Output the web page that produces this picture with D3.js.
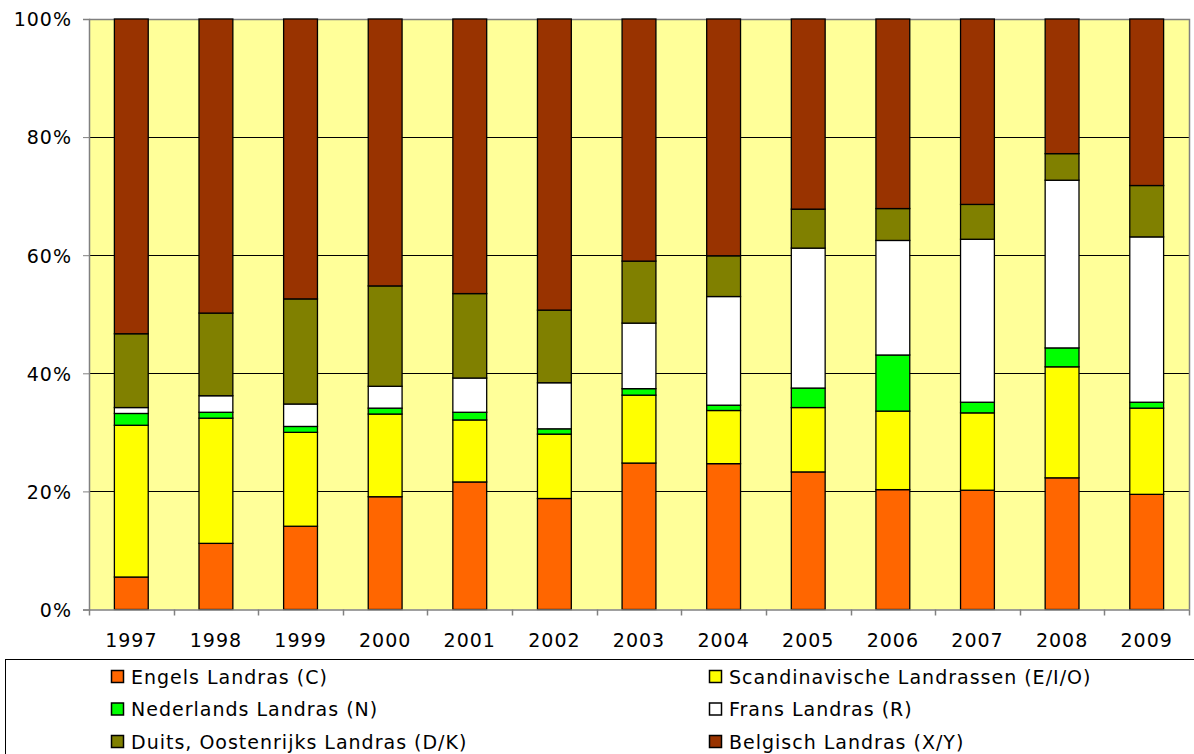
<!DOCTYPE html>
<html><head><meta charset="utf-8">
<script src="https://cdn.jsdelivr.net/npm/d3@7"></script>
<style>body{margin:0;background:#fff}svg{display:block}text{font-family:"DejaVu Sans",Verdana,sans-serif;fill:#000}</style>
</head><body><svg id="c" width="1194" height="754"></svg>
<script>
const years = ["1997","1998","1999","2000","2001","2002","2003","2004","2005","2006","2007","2008","2009"];
const seriesNames = ["Engels Landras (C)","Scandinavische Landrassen (E/I/O)","Nederlands Landras (N)","Frans Landras (R)","Duits, Oostenrijks Landras (D/K)","Belgisch Landras (X/Y)"];
const seriesColors = ["#FF6600","#FFFF00","#00FF00","#FFFFFF","#808000","#993300"];
const engels    = [5.5,11.2,14.1,19.1,21.6,18.8,24.8,24.7,23.3,20.3,20.2,22.3,19.5];
const scandi    = [25.7,21.2,15.9,14.0,10.5,10.9,11.5,9.0,10.9,13.3,13.1,18.8,14.6];
const nederland = [2.0,1.0,1.0,1.0,1.3,0.9,1.1,0.9,3.3,9.5,1.8,3.2,1.0];
const frans     = [1.0,2.8,3.8,3.7,5.8,7.8,11.1,18.4,23.7,19.4,27.6,28.4,28.0];
const duits     = [12.5,14.0,17.8,17.0,14.3,12.3,10.5,6.9,6.6,5.4,5.9,4.5,8.7];
const belgisch  = [53.3,49.8,47.4,45.2,46.5,49.3,41.0,40.1,32.2,32.1,31.4,22.8,28.2];
const yTicks = [0,0.2,0.4,0.6,0.8,1.0];

const seriesVals = [engels,scandi,nederland,frans,duits,belgisch];
const keys = seriesNames;
const table = years.map((y,i)=>{const o={year:y};keys.forEach((k,j)=>o[k]=seriesVals[j][i]);return o;});
const stacked = d3.stack().keys(keys).offset(d3.stackOffsetExpand)(table);

const svg = d3.select("#c");
const L=89, R=1189, T=19, B=609.5;
const x = d3.scaleBand().domain(years).range([L,R]).paddingInner(0.6).paddingOuter(0.3);
const y = d3.scaleLinear().domain([0,1]).range([B,T]);
const FS = "19px", LS = "1px";

svg.append("rect").attr("x",L).attr("y",T).attr("width",R-L).attr("height",B-T).attr("fill","#FFFF99");
// gridlines
svg.append("g").selectAll("line").data(yTicks.filter(v=>v>0&&v<1)).join("line")
  .attr("x1",L).attr("x2",R).attr("y1",d=>Math.round(y(d))+0.5).attr("y2",d=>Math.round(y(d))+0.5)
  .attr("stroke","#000").attr("stroke-width",1);
// border top/right
svg.append("path").attr("d",`M${L},${T+0.5}H${R+0.5}V${B}`).attr("fill","none").attr("stroke","#808080").attr("stroke-width",1.5);

// bars
svg.append("g").selectAll("g").data(stacked).join("g").attr("fill",(d,i)=>seriesColors[i])
  .selectAll("rect").data(d=>d).join("rect")
  .attr("x",d=>x(d.data.year)).attr("width",x.bandwidth())
  .attr("y",d=>y(d[1])).attr("height",d=>y(d[0])-y(d[1]))
  .attr("stroke","#000").attr("stroke-width",1.3);

// y axis
const yAxis = d3.axisLeft(y).tickValues(yTicks).tickFormat(d3.format(".0%")).tickSize(6).tickPadding(11);
const gy = svg.append("g").attr("transform",`translate(${L},0)`).call(yAxis);
gy.select(".domain").attr("stroke","#808080").attr("stroke-width",1.5);
gy.selectAll(".tick line").attr("stroke","#808080");
gy.selectAll("text").style("font-size",FS).style("letter-spacing",LS).attr("dy","0.36em").attr("fill","#000");

// x axis
const xAxis = d3.axisBottom(x).tickSize(0).tickPadding(24);
const gx = svg.append("g").attr("transform",`translate(0,${B})`).call(xAxis);
gx.select(".domain").attr("stroke","#808080").attr("stroke-width",1.5);
gx.selectAll("text").style("font-size",FS).style("letter-spacing",LS).attr("fill","#000");
// category boundary ticks
const step = x.step();
const bounds = d3.range(years.length+1).map(i=>L+i*(R-L)/years.length);
svg.append("g").selectAll("line").data(bounds).join("line")
  .attr("x1",d=>Math.round(d)+0.5).attr("x2",d=>Math.round(d)+0.5).attr("y1",B).attr("y2",B+6)
  .attr("stroke","#808080").attr("stroke-width",1.5);

// legend
svg.append("rect").attr("x",5.5).attr("y",659.5).attr("width",1250).attr("height",200)
  .attr("fill","#fff").attr("stroke","#000").attr("stroke-width",1);
const legX = [111,709], legY = [677,709.5,742];
const lg = svg.append("g").selectAll("g").data(seriesNames).join("g")
  .attr("transform",(d,i)=>`translate(${legX[i%2]},${legY[Math.floor(i/2)]})`);
lg.append("rect").attr("x",0.5).attr("y",-6.5).attr("width",12).attr("height",12)
  .attr("fill",(d,i)=>seriesColors[i]).attr("stroke","#000").attr("stroke-width",1.5);
lg.append("text").attr("x",20).attr("y",0).attr("dy","0.36em").style("font-size",FS).style("letter-spacing",LS).text(d=>d);
</script></body></html>
